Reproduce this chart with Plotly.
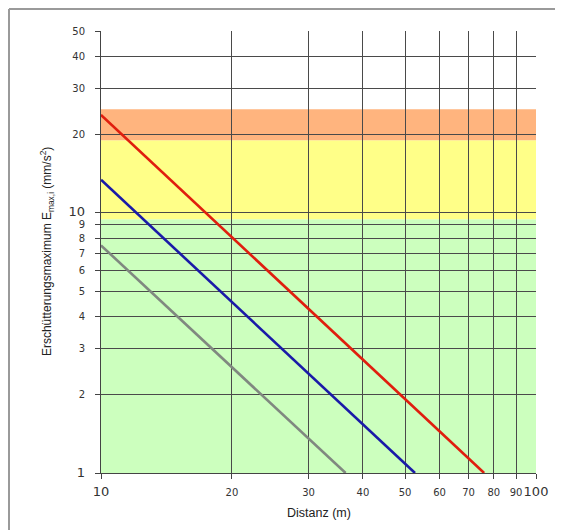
import plotly.graph_objects as go

# --- data ---
red_x = [10, 76]
red_y = [23.8, 1.0]
blue_x = [10, 52.7]
blue_y = [13.4, 1.0]
gray_x = [10, 36.5]
gray_y = [7.5, 1.0]

# background zones (lower, upper) in mm/s^2
zone_green = [1.0, 9.45]
zone_yellow = [9.45, 19.0]
zone_orange = [19.0, 25.0]

BIG = '<span style="font-size:13px">{}</span>'
x_tickvals = [10, 20, 30, 40, 50, 60, 70, 80, 90, 100]
x_ticktext = [BIG.format('10'), '20', '30', '40', '50', '60', '70', '80', '90', BIG.format('100')]
y_tickvals = [1, 2, 3, 4, 5, 6, 7, 8, 9, 10, 20, 30, 40, 50]
y_ticktext = [BIG.format('1'), '2', '3', '4', '5', '6', '7', '8', '9', BIG.format('10'),
              '20', '30', '40', '50']

fig = go.Figure()

for xs, ys, col in [(gray_x, gray_y, '#808880'), (blue_x, blue_y, '#1a1aa8'), (red_x, red_y, '#e01e0e')]:
    fig.add_trace(go.Scatter(x=xs, y=ys, mode='lines', line=dict(color=col, width=2.6),
                             showlegend=False, hoverinfo='skip'))

shapes = []
for (lo, hi), col in [(zone_green, '#ccffbe'), (zone_yellow, '#ffff88'), (zone_orange, '#ffb47e')]:
    shapes.append(dict(type='rect', xref='paper', yref='y', x0=0, x1=1, y0=lo, y1=hi,
                       fillcolor=col, line=dict(width=0), layer='below'))
# outer frame (left and top edges visible)
fx = -92.0 / 435
fy = 1 + 22.0 / 442
shapes.append(dict(type='line', xref='paper', yref='paper', x0=fx, x1=fx, y0=-0.2, y1=fy,
                   line=dict(color='#9a9a9a', width=2)))
shapes.append(dict(type='line', xref='paper', yref='paper', x0=fx, x1=1.1, y0=fy, y1=fy,
                   line=dict(color='#9a9a9a', width=2)))

fig.update_layout(
    width=555, height=522,
    margin=dict(l=93, r=27, t=23, b=57, autoexpand=False),
    paper_bgcolor='white', plot_bgcolor='rgba(0,0,0,0)',
    font=dict(family='Liberation Sans, Arial, sans-serif', color='#222'),
    shapes=shapes,
    annotations=[
        dict(text='Erschütterungsmaximum E<sub>max,i</sub> (mm/s<sup>2</sup>)', xref='paper', yref='paper',
             x=-0.124, y=0.5, xanchor='center', yanchor='middle', textangle=-90, showarrow=False,
             font=dict(size=12, color='#222')),
        dict(text='Distanz (m)', xref='paper', yref='paper', x=0.5, y=-0.0905,
             xanchor='center', yanchor='middle', showarrow=False, font=dict(size=12.5, color='#222')),
    ],
)

fig.update_xaxes(type='log', range=[1, 2], tickvals=x_tickvals, ticktext=x_ticktext, tickangle=0,
                 automargin=False,
                 tickfont=dict(size=10, color='#333', family='DejaVu Sans'), ticks='outside', ticklen=5,
                 tickcolor='#444', showgrid=True, gridcolor='#4a4a4a', gridwidth=1,
                 showline=True, linecolor='#444', linewidth=1, zeroline=False,
                 ticklabelstandoff=5)
fig.update_yaxes(type='log', range=[0, 1.69897], tickvals=y_tickvals, ticktext=y_ticktext,
                 automargin=False,
                 tickfont=dict(size=10, color='#333', family='DejaVu Sans'), ticks='outside', ticklen=5,
                 tickcolor='#444', showgrid=True, gridcolor='#4a4a4a', gridwidth=1,
                 showline=True, linecolor='#444', linewidth=1, zeroline=False,
                 ticklabelstandoff=8)

fig.write_html('out.html')
